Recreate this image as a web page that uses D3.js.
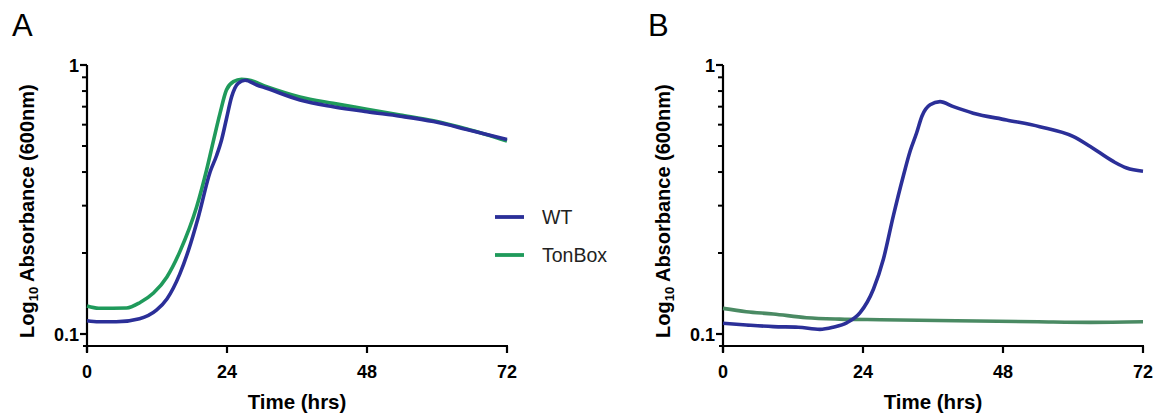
<!DOCTYPE html>
<html>
<head>
<meta charset="utf-8">
<script src="https://cdn.jsdelivr.net/npm/d3@7"></script>
<style>
  body { margin: 0; background: #fff; }
  text { font-family: "Liberation Sans", Arial, sans-serif; }
</style>
</head>
<body>
<div id="chart"></div>
<script>
// panel A: [hours, absorbance]
const wtA = [[0,0.112],[2,0.111],[5,0.111],[9,0.114],[11.9,0.1226],[13.7,0.135],[15.9,0.167],[17.4,0.205],[19.1,0.273],[21.1,0.4],[22.2,0.46],[23.1,0.53],[23.9,0.63],[24.8,0.763],[25.9,0.855],[27.1,0.878],[29.1,0.843],[30.8,0.819],[36.5,0.741],[42.2,0.70],[48,0.67],[53.7,0.645],[59.4,0.616],[65.1,0.576],[72,0.528]];
const tonA = [[0,0.127],[2,0.1246],[6.8,0.125],[9.1,0.131],[11.4,0.142],[13.7,0.163],[15.9,0.202],[18.8,0.297],[20.5,0.407],[21.7,0.526],[22.8,0.661],[23.9,0.807],[25.1,0.867],[26.5,0.885],[27.5,0.882],[30.8,0.83],[36.5,0.76],[42.2,0.72],[48,0.685],[53.7,0.652],[59.4,0.62],[65.1,0.578],[72,0.522]];
// panel B
const wtB = [[0,0.1096],[4,0.108],[8.6,0.1065],[12.9,0.106],[16.6,0.104],[18.9,0.106],[21.2,0.110],[23.5,0.12],[25.8,0.147],[27.5,0.19],[29.2,0.275],[30.9,0.386],[32.1,0.48],[33.2,0.56],[34.1,0.645],[35.5,0.711],[37.2,0.731],[39.5,0.70],[42.9,0.662],[48.6,0.625],[54.3,0.59],[60,0.543],[62.9,0.499],[66.9,0.438],[69.2,0.414],[72,0.403]];
const tonB = [[0,0.1245],[4,0.121],[8.6,0.1187],[14.3,0.115],[20,0.1136],[27,0.113],[40,0.112],[54,0.111],[63,0.1105],[72,0.111]];

const xTicks = [0, 24, 48, 72];
const yTicks = [0.1, 1];
const yMinor = [0.2, 0.3, 0.4, 0.5, 0.6, 0.7, 0.8, 0.9];
const legendNames = ["WT", "TonBox"];

const colWT = "#2b2f98";
const colTonA = "#1f9a5b";
const colTonB = "#4a8a63";

const svg = d3.select("#chart").append("svg")
  .attr("width", 1160).attr("height", 420);

function panel(ox, letter, wt, ton, tonColor) {
  const left = ox + 87, top = 65, w = 420, h = 269;
  const g = svg.append("g");

  const x = d3.scaleLinear().domain([0, 72]).range([left, left + w]);
  const y = d3.scaleLog().domain([0.1, 1]).range([top + h, top]);
  const bottom = top + h + 12;

  // y axis
  g.append("line").attr("x1", left).attr("x2", left)
    .attr("y1", top).attr("y2", bottom + 6)
    .attr("stroke", "#000").attr("stroke-width", 2.2);
  g.selectAll(".yminor").data(yMinor).join("line")
    .attr("x1", left - 5).attr("x2", left)
    .attr("y1", d => y(d)).attr("y2", d => y(d))
    .attr("stroke", "#000").attr("stroke-width", 2);
  g.selectAll(".ymajor").data(yTicks).join("line")
    .attr("x1", left - 7).attr("x2", left)
    .attr("y1", d => y(d)).attr("y2", d => y(d))
    .attr("stroke", "#000").attr("stroke-width", 2.2);
  g.selectAll(".ylab").data(yTicks).join("text")
    .attr("x", left - 8).attr("y", d => y(d) + 7)
    .attr("text-anchor", "end")
    .attr("font-size", 18).attr("font-weight", "bold")
    .text(d => d);

  // x axis
  g.append("line").attr("x1", left - 4).attr("x2", x(72) + 1)
    .attr("y1", bottom).attr("y2", bottom)
    .attr("stroke", "#000").attr("stroke-width", 2.2);
  g.selectAll(".xt").data(xTicks).join("line")
    .attr("x1", d => x(d)).attr("x2", d => x(d))
    .attr("y1", bottom).attr("y2", bottom + 7)
    .attr("stroke", "#000").attr("stroke-width", 2.2);
  g.selectAll(".xlab").data(xTicks).join("text")
    .attr("x", d => x(d)).attr("y", bottom + 32)
    .attr("text-anchor", "middle")
    .attr("font-size", 18).attr("font-weight", "bold")
    .text(d => d);

  g.append("text").attr("x", x(36)).attr("y", 409)
    .attr("text-anchor", "middle")
    .attr("font-size", 20.5).attr("font-weight", "bold")
    .text("Time (hrs)");

  const yl = g.append("text")
    .attr("transform", `translate(${ox + 34},338) rotate(-90)`)
    .attr("text-anchor", "start")
    .attr("font-size", 20).attr("font-weight", "bold");
  yl.append("tspan").text("Log");
  yl.append("tspan").attr("font-size", 13).attr("dy", 4).text("10");
  yl.append("tspan").attr("dy", -4).text(" Absorbance (600nm)");

  g.append("text").attr("x", ox + 12).attr("y", 36)
    .attr("font-size", 31).text(letter);

  const line = d3.line()
    .x(d => x(d[0])).y(d => y(d[1]))
    .curve(d3.curveMonotoneX);

  g.append("path").datum(ton).attr("d", line)
    .attr("fill", "none").attr("stroke", tonColor).attr("stroke-width", 3.6);
  g.append("path").datum(wt).attr("d", line)
    .attr("fill", "none").attr("stroke", colWT).attr("stroke-width", 3.6);
}

panel(0, "A", wtA, tonA, colTonA);
panel(636, "B", wtB, tonB, colTonB);

// legend
const leg = svg.append("g").attr("transform", "translate(495,217)");
const legColors = [colWT, colTonA];
leg.selectAll("line").data(legendNames).join("line")
  .attr("x1", 0).attr("x2", 29)
  .attr("y1", (d, i) => i * 38).attr("y2", (d, i) => i * 38)
  .attr("stroke", (d, i) => legColors[i]).attr("stroke-width", 3.8);
leg.selectAll("text").data(legendNames).join("text")
  .attr("x", 47).attr("y", (d, i) => i * 38 + 7)
  .attr("font-size", 19.5).attr("fill", "#222")
  .text(d => d);
</script>
</body>
</html>
